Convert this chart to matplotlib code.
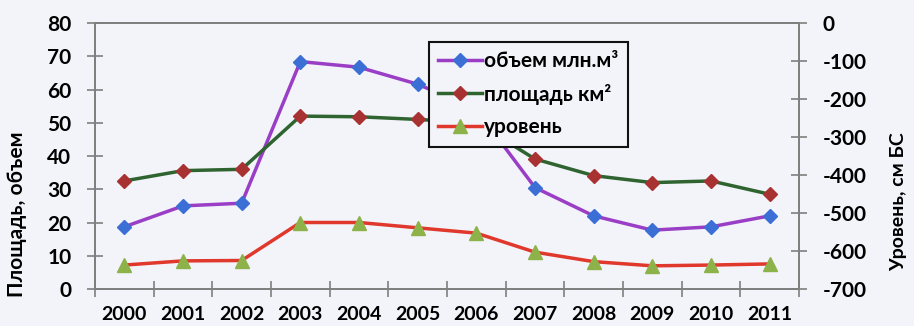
import numpy as np
import matplotlib
matplotlib.use("Agg")
import matplotlib.pyplot as plt
from matplotlib.lines import Line2D

plt.rcParams['font.family'] = ['Lato', 'DejaVu Sans']
plt.rcParams['font.weight'] = 'bold'
plt.rcParams['axes.unicode_minus'] = False

years = ['2000', '2001', '2002', '2003', '2004', '2005',
         '2006', '2007', '2008', '2009', '2010', '2011']
volume = [18.7, 25.0, 25.8, 68.4, 66.7, 61.6, 54.0, 30.5, 22.0, 17.7, 18.7, 22.0]
area = [32.5, 35.6, 36.0, 52.0, 51.8, 51.0, 50.0, 39.1, 34.1, 32.0, 32.5, 28.5]
level = [-637, -626, -625, -525, -525, -539, -553, -603, -628, -639, -637, -634]

label_volume = 'объем млн.м³'
label_area = 'площадь км²'
label_level = 'уровень'
left_label = 'Площадь, объем'
right_label = 'Уровень, см БС'

bg = '#f2f4f9'
spine_col = '#7f7f7f'

vol_style = dict(color='#9a3ec6', lw=2.5, marker='D', ms=7,
                 mfc='#3b6fd6', mec='#3b6fd6')
area_style = dict(color='#2f6431', lw=2.5, marker='D', ms=7,
                  mfc='#a83232', mec='#a83232')
level_style = dict(color='#e0382c', lw=2.5, marker='^', ms=9.5,
                   mfc='#8db24a', mec='#8db24a')

fig = plt.figure(figsize=(9.14, 3.26), dpi=100, facecolor=bg)
ax = fig.add_axes([0.1039, 0.1135, 0.7703, 0.8159], facecolor=bg)
ax2 = ax.twinx()

x = np.arange(len(years))

ax.plot(x, volume, zorder=3, **vol_style)
ax.plot(x, area, zorder=3, **area_style)
ax2.plot(x, level, zorder=3, **level_style)

ax.set_xlim(-0.5, len(years) - 0.5)
ax.set_ylim(0, 80)
ax2.set_ylim(-700, 0)

ax.set_yticks(np.arange(0, 81, 10))
ax2.set_yticks(np.arange(-700, 1, 100))

# category boundaries carry the tick marks, centres carry the labels
ax.set_xticks(np.arange(-0.5, len(years), 1.0))
ax.set_xticklabels([])
ax.set_xticks(x, minor=True)
ax.set_xticklabels(years, minor=True)
ax.tick_params(axis='x', which='major', direction='inout', length=12,
               width=1.2, color=spine_col)
ax.tick_params(axis='x', which='minor', length=0, pad=12, labelsize=14)
ax.tick_params(axis='y', direction='inout', length=12, width=1.2,
               color=spine_col, labelsize=15, pad=11)
ax2.tick_params(axis='y', direction='inout', length=12, width=1.2,
                color=spine_col, labelsize=15, pad=11)

for a in (ax, ax2):
    for s in a.spines.values():
        s.set_color(spine_col)
        s.set_linewidth(1.3)

ax.set_ylabel(left_label, fontsize=15, fontweight='bold')
ax.yaxis.set_label_coords(-0.097, 0.28)
ax2.set_ylabel(right_label, fontsize=14, fontweight='bold')
ax2.yaxis.set_label_coords(1.13, 0.33)

handles = [Line2D([], [], **vol_style),
           Line2D([], [], **area_style),
           Line2D([], [], **level_style)]
leg = ax2.legend(handles, [label_volume, label_area, label_level],
                 loc='upper left', bbox_to_anchor=(0.474, 0.929),
                 borderaxespad=0, frameon=True, fancybox=False,
                 framealpha=1, facecolor=bg, edgecolor='#111111',
                 prop={'size': 15, 'weight': 'bold'},
                 handlelength=2.1, handletextpad=0.1, borderpad=0.45,
                 labelspacing=0.6)
leg.get_frame().set_linewidth(1.5)
leg.set_zorder(10)

fig.savefig('out.png', dpi=100, facecolor=bg)
